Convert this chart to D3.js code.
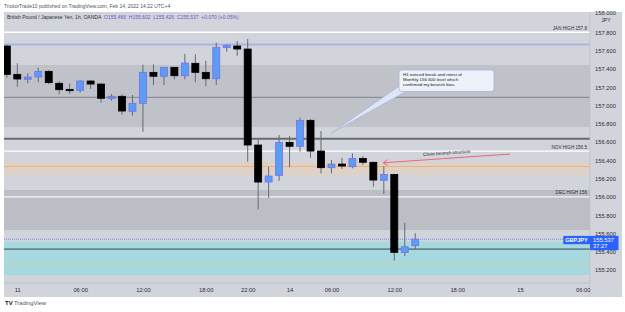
<!DOCTYPE html>
<html>
<head>
<meta charset="utf-8">
<script src="https://cdn.jsdelivr.net/npm/d3@7"></script>
<style>
  body { margin: 0; background: #fff; }
  svg { display: block; font-family: "Liberation Sans", Arial, sans-serif; }
</style>
</head>
<body>
<svg id="chart" width="625" height="312"></svg>
<script>
// hourly GBPJPY candles
var opens  = [157.650, 157.340, 157.286, 157.311, 157.373, 157.242, 157.176, 157.165, 157.267, 157.234,
              157.074, 157.100, 156.936, 157.023, 157.362, 157.319, 157.417, 157.325, 157.461, 157.362,
              157.292, 157.632, 157.650, 157.617, 156.567, 156.162, 156.235, 156.596, 156.553, 156.837,
              156.501, 156.319, 156.359, 156.330, 156.421, 156.378, 156.181, 156.246, 155.393, 155.466];
var highs  = [157.665, 157.461, 157.351, 157.413, 157.384, 157.267, 157.242, 157.278, 157.278, 157.240,
              157.125, 157.122, 157.114, 157.446, 157.450, 157.420, 157.420, 157.563, 157.559, 157.489,
              157.686, 157.669, 157.705, 157.727, 156.629, 156.330, 156.676, 156.665, 156.866, 156.851,
              156.720, 156.403, 156.428, 156.476, 156.447, 156.385, 156.337, 156.250, 155.717, 155.602];
var lows   = [157.303, 157.205, 157.242, 157.253, 157.234, 157.122, 157.125, 157.139, 157.180, 157.030,
              157.052, 156.898, 156.888, 156.712, 157.223, 157.223, 157.286, 157.286, 157.253, 157.212,
              157.223, 157.588, 157.544, 156.384, 155.863, 155.990, 156.176, 156.323, 156.494, 156.428,
              156.257, 156.257, 156.304, 156.312, 156.348, 156.111, 156.031, 155.301, 155.353, 155.426];
var closes = [157.340, 157.289, 157.311, 157.373, 157.249, 157.172, 157.161, 157.267, 157.234, 157.078,
              157.100, 156.939, 157.023, 157.362, 157.319, 157.417, 157.325, 157.464, 157.362, 157.292,
              157.636, 157.658, 157.617, 156.567, 156.162, 156.228, 156.596, 156.553, 156.837, 156.501,
              156.319, 156.359, 156.337, 156.421, 156.378, 156.184, 156.246, 155.393, 155.454, 155.537];

// time axis labels and the bar index they sit on
var timeLabels = ["11", "06:00", "12:00", "18:00", "22:00", "14", "06:00", "12:00", "18:00", "15", "06:00"];
var timeIndex  = [1, 7, 13, 19, 23, 27, 31, 37, 43, 49, 55];

// price axis ticks
var priceTicks = [155.2, 155.4, 155.6, 155.8, 156.0, 156.2, 156.4, 156.6, 156.8, 157.0, 157.2, 157.4, 157.6, 157.8, 158.0];

// shaded zones (bottom / top price)
var zoneLow  = [156.764, 156.231, 155.637, 155.145];
var zoneHigh = [157.442, 156.384, 156.075, 155.511];
var zoneFill = ["#c0c2ca", "#ddd2c9", "#bcbec6", "#a6d8df"];

// horizontal level lines
var levelPrice = [157.8, 157.667, 157.089, 156.635, 156.5, 156.332, 156.0, 155.429, 155.270];
var levelName  = ["JAN HIGH 157.8", "", "", "", "NOV HIGH 156.5", "", "DEC HIGH 156", "", ""];
var levelColor = ["#ffffff", "#a6b5e3", "#7f828a", "#686b73", "#ffffff", "#f2b36c", "#f4f5f8", "#38474d", "#c8d79b"];
var levelWidth = [1.4, 2, 1, 2, 1.4, 1, 1.2, 1, 1];

var lastPrice = 155.537;

var svg = d3.select("#chart");
var padL = 4, plotR = 590, plotT = 12, plotB = 283, axisR = 622, panelB = 297;

var x = d3.scaleLinear().domain([1, 37]).range([17.3, 394.3]);
var y = d3.scaleLinear().domain([155.2, 157.8]).range([270, 32.3]);

// panel background
svg.append("rect").attr("x", padL).attr("y", plotT).attr("width", axisR - padL).attr("height", panelB - plotT)
   .attr("fill", "#d2d4db");

svg.append("clipPath").attr("id", "plot")
   .append("rect").attr("x", padL).attr("y", plotT).attr("width", plotR - padL).attr("height", plotB - plotT);

var plot = svg.append("g").attr("clip-path", "url(#plot)");

// zones
plot.selectAll("rect.zone").data(zoneLow).enter().append("rect")
    .attr("class", "zone")
    .attr("x", padL).attr("width", plotR - padL)
    .attr("y", (d, i) => y(zoneHigh[i]))
    .attr("height", (d, i) => y(d) - y(zoneHigh[i]))
    .attr("fill", (d, i) => zoneFill[i]);

// level lines
plot.selectAll("line.level").data(levelPrice).enter().append("line")
    .attr("class", "level")
    .attr("x1", padL).attr("x2", plotR)
    .attr("y1", d => y(d)).attr("y2", d => y(d))
    .attr("stroke", (d, i) => levelColor[i])
    .attr("stroke-width", (d, i) => levelWidth[i]);

plot.selectAll("text.level").data(levelPrice).enter().append("text")
    .attr("class", "level")
    .attr("x", plotR - 3).attr("y", d => y(d) - 2.5)
    .attr("text-anchor", "end")
    .attr("font-size", 4.6).attr("fill", "#2a2e39")
    .text((d, i) => levelName[i]);

// current price dotted line
plot.append("line")
    .attr("x1", padL).attr("x2", plotR)
    .attr("y1", y(lastPrice)).attr("y2", y(lastPrice))
    .attr("stroke", "#6f86e6").attr("stroke-width", 1).attr("stroke-dasharray", "1,1");

// candles
var idx = d3.range(opens.length);
plot.selectAll("line.wick").data(idx).enter().append("line")
    .attr("class", "wick")
    .attr("x1", i => x(i)).attr("x2", i => x(i))
    .attr("y1", i => y(highs[i])).attr("y2", i => y(lows[i]))
    .attr("stroke", "#676a72").attr("stroke-width", 1);

plot.selectAll("rect.body").data(idx).enter().append("rect")
    .attr("class", "body")
    .attr("x", i => x(i) - 3.5).attr("width", 7)
    .attr("y", i => y(Math.max(opens[i], closes[i])))
    .attr("height", i => Math.max(1, Math.abs(y(opens[i]) - y(closes[i]))))
    .attr("fill", i => closes[i] >= opens[i] ? "#5b9cf6" : "#000")
    .attr("stroke", i => closes[i] >= opens[i] ? "#7a70e8" : "#000")
    .attr("stroke-width", 0.8);

// callout note
var bx = x(37.45), by = y(157.388), bw = 95, bh = 21.5;
plot.append("path")
    .attr("d", "M" + (bx + 1) + "," + (by + bh - 6) + " L" + x(31) + "," + y(156.698) + " L" + (bx + 7) + "," + (by + bh) + "Z")
    .attr("fill", "#dfe5f6").attr("stroke", "#a6b5e3").attr("stroke-width", 0.8);
plot.append("rect")
    .attr("x", bx).attr("y", by).attr("width", bw).attr("height", bh).attr("rx", 3)
    .attr("fill", "#eef1f8").attr("stroke", "#a6b5e3").attr("stroke-width", 0.8);
var note = ["H1 noticed break and retest of", "Monthly 156.600 level which", "confirmed my bearish bias."];
plot.selectAll("text.note").data(note).enter().append("text")
    .attr("class", "note")
    .attr("x", bx + 4).attr("y", (d, i) => by + 6.5 + i * 4.6)
    .attr("font-size", 4.4).attr("fill", "#131722")
    .text(d => d);

// arrow "Clean bearish structure"
var ax1 = x(48.06), ay1 = y(156.468), ax2 = x(35.96), ay2 = y(156.373);
plot.append("line").attr("x1", ax1).attr("y1", ay1).attr("x2", ax2).attr("y2", ay2)
    .attr("stroke", "#f05a6a").attr("stroke-width", 0.9);
var ang = Math.atan2(ay1 - ay2, ax1 - ax2);
[0.6, -0.6].forEach(function (a) {
    plot.append("line").attr("x1", ax2).attr("y1", ay2)
        .attr("x2", ax2 + 5 * Math.cos(ang + a)).attr("y2", ay2 + 5 * Math.sin(ang + a))
        .attr("stroke", "#f05a6a").attr("stroke-width", 0.9);
});
var deg = ang * 180 / Math.PI;
plot.append("text")
    .attr("transform", "translate(" + ((ax1 + ax2) / 2) + "," + ((ay1 + ay2) / 2 - 4) + ") rotate(" + deg + ")")
    .attr("text-anchor", "middle").attr("font-size", 4.6).attr("fill", "#2a2e39")
    .text("Clean bearish structure");

// axes separators
svg.append("line").attr("x1", plotR).attr("x2", plotR).attr("y1", plotT).attr("y2", panelB)
   .attr("stroke", "#b8bbc3").attr("stroke-width", 0.8);
svg.append("line").attr("x1", padL).attr("x2", plotR).attr("y1", plotB).attr("y2", plotB)
   .attr("stroke", "#b8bbc3").attr("stroke-width", 0.8);

// time axis
var xAxis = d3.axisBottom(x).tickValues(timeIndex).tickSize(0).tickPadding(0)
              .tickFormat((d, i) => timeLabels[i]);
var xa = svg.append("g").attr("transform", "translate(0," + (plotB + 4.5) + ")").call(xAxis);
xa.select(".domain").remove();
xa.selectAll("text").attr("font-size", 5.8).attr("fill", "#2a2e39").attr("font-family", "Liberation Sans, Arial, sans-serif");
// price column covers the cut-off last time label
svg.append("rect").attr("x", plotR + 0.5).attr("y", plotT).attr("width", axisR - plotR - 0.5).attr("height", panelB - plotT)
   .attr("fill", "#d2d4db");

// price axis
var yAxis = d3.axisRight(y).tickValues(priceTicks).tickSize(0).tickPadding(0).tickFormat(d3.format(".3f"));
var ya = svg.append("g").attr("transform", "translate(" + (plotR + 5) + ",0)").call(yAxis);
ya.select(".domain").remove();
ya.selectAll("text").attr("font-size", 5.8).attr("fill", "#2a2e39").attr("font-family", "Liberation Sans, Arial, sans-serif");
ya.selectAll(".tick").filter(d => d > 157.9).select("text").attr("dy", "0.1em");
svg.append("text").attr("x", 606).attr("y", 21.5).attr("text-anchor", "middle")
   .attr("font-size", 5.2).attr("fill", "#2a2e39").text("JPY");

// last price labels
svg.append("rect").attr("x", 563.3).attr("y", y(lastPrice) - 3.3).attr("width", plotR - 563.3).attr("height", 8.3).attr("fill", "#2962ff");
svg.append("text").attr("x", 576.5).attr("y", y(lastPrice) + 2.7).attr("text-anchor", "middle")
   .attr("font-size", 5.6).attr("font-weight", "bold").attr("fill", "#fff").text("GBPJPY");
svg.append("rect").attr("x", plotR).attr("y", y(lastPrice) - 3.3).attr("width", 28.5).attr("height", 14.3).attr("fill", "#2962ff");
svg.append("text").attr("x", plotR + 3).attr("y", y(lastPrice) + 2.7)
   .attr("font-size", 5.8).attr("fill", "#fff").text(d3.format(".3f")(lastPrice));
svg.append("text").attr("x", plotR + 3).attr("y", y(lastPrice) + 9)
   .attr("font-size", 5.8).attr("fill", "#fff").text("37:27");

// header texts
svg.append("text").attr("x", 4).attr("y", 8).attr("font-size", 5).attr("fill", "#50535e")
   .text("TrickorTrade10 published on TradingView.com, Feb 14, 2022 14:22 UTC+4");
var hdr = svg.append("text").attr("x", 7).attr("y", 19).attr("font-size", 5);
hdr.append("tspan").attr("fill", "#2a2e39").text("British Pound / Japanese Yen, 1h, OANDA\u00a0\u00a0");
["O155.466", "H155.602", "L155.426", "C155.537", "+0.070 (+0.05%)"].forEach(function (t) {
    hdr.append("tspan").attr("fill", "#6a58c8").text(t + "\u00a0\u00a0");
});

// footer
svg.append("text").attr("x", 5).attr("y", 305).attr("font-size", 6).attr("font-weight", "bold").attr("fill", "#131722").text("TV");
svg.append("text").attr("x", 14).attr("y", 305).attr("font-size", 5.8).attr("fill", "#50535e").text("TradingView");
</script>
</body>
</html>
